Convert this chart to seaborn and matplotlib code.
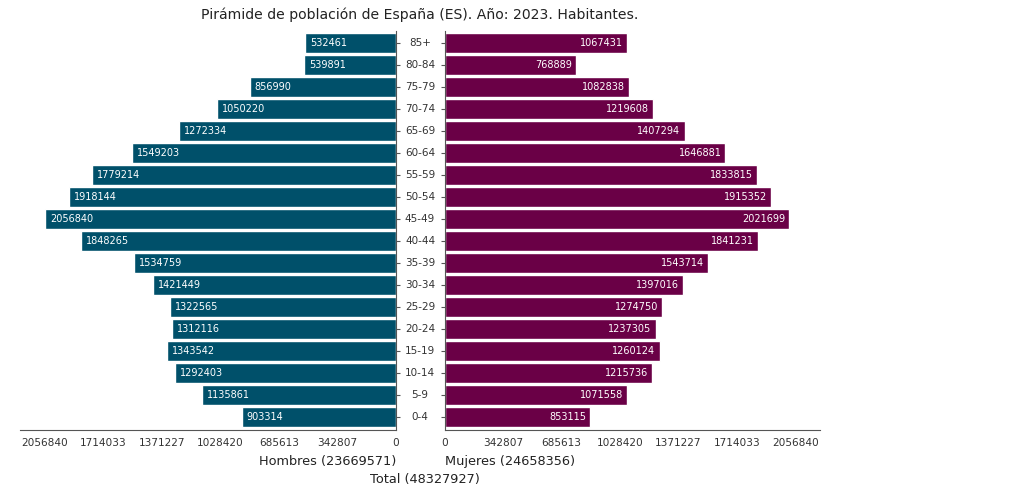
import matplotlib
matplotlib.use("Agg")
import matplotlib.pyplot as plt
import matplotlib.transforms as mtransforms
import seaborn as sns
import pandas as pd

ages = ["85+", "80-84", "75-79", "70-74", "65-69", "60-64", "55-59", "50-54", "45-49",
        "40-44", "35-39", "30-34", "25-29", "20-24", "15-19", "10-14", "5-9", "0-4"]
hombres = [532461, 539891, 856990, 1050220, 1272334, 1549203, 1779214, 1918144, 2056840,
           1848265, 1534759, 1421449, 1322565, 1312116, 1343542, 1292403, 1135861, 903314]
mujeres = [1067431, 768889, 1082838, 1219608, 1407294, 1646881, 1833815, 1915352, 2021699,
           1841231, 1543714, 1397016, 1274750, 1237305, 1260124, 1215736, 1071558, 853115]

title = "Pirámide de población de España (ES). Año: 2023. Habitantes."
c_h = "#00506a"
c_m = "#6a0046"
txt = "#222222"

sns.set_style("white")
plt.rcParams["font.family"] = ["DejaVu Sans"]

W, H = 1028, 500
fig = plt.figure(figsize=(W / 100, H / 100), dpi=100)
top = 1 - 31 / H
bot = 1 - 430 / H
axL = fig.add_axes([20 / W, bot, (396 - 20) / W, top - bot])
axR = fig.add_axes([445 / W, bot, (820 - 445) / W, top - bot])

df = pd.DataFrame({"age": ages, "h": hombres, "m": mujeres})
sns.barplot(data=df, x="h", y="age", order=ages, orient="h", color=c_h,
            saturation=1, width=0.9, ax=axL)
sns.barplot(data=df, x="m", y="age", order=ages, orient="h", color=c_m,
            saturation=1, width=0.9, ax=axR)

vmax = max(max(hombres), max(mujeres))
ticks = [vmax * i / 6 for i in range(7)]
labels = [f"{round(t)}" for t in ticks]
lim = vmax * 1.071

axL.set_xlim(lim, 0)
axR.set_xlim(0, lim)
for ax in (axL, axR):
    ax.set_ylim(len(ages) - 0.4, -0.55)
    ax.set_xticks(ticks)
    ax.set_xticklabels(labels, fontsize=7.6, color="#333333")
    ax.set_xlabel("")
    ax.set_ylabel("")
    ax.set_yticklabels([])
    ax.tick_params(axis="x", direction="out", length=4, width=0.8, color="#555555", pad=2)
    ax.tick_params(axis="y", direction="out", length=3, width=0.8, color="#555555")
    for s in ax.spines.values():
        s.set_color("#555555")
        s.set_linewidth(0.8)
    ax.spines["top"].set_visible(False)

axL.spines["left"].set_visible(False)
axL.yaxis.tick_right()
axR.spines["right"].set_visible(False)
axR.yaxis.tick_left()

# bar labels
offL = mtransforms.offset_copy(axL.transData, fig=fig, x=5 * 0.72, y=0, units="points")
offR = mtransforms.offset_copy(axR.transData, fig=fig, x=-4 * 0.72, y=0, units="points")
for i, v in enumerate(hombres):
    axL.text(v, i, f"{v}", transform=offL, ha="left", va="center",
             fontsize=7, color="white")
for i, v in enumerate(mujeres):
    axR.text(v, i, f"{v}", transform=offR, ha="right", va="center",
             fontsize=7, color="white")

# age labels in the gap
tr = mtransforms.blended_transform_factory(fig.transFigure, axL.transData)
for i, a in enumerate(ages):
    axL.text(420 / W, i, a, transform=tr, ha="center", va="center",
             fontsize=7.5, color="#333333", clip_on=False)

fig.text(420 / W, 1 - 15 / H, title, ha="center", va="center", fontsize=10.1, color=txt)
fig.text(396 / W, 1 - 461 / H, f"Hombres ({sum(hombres)})", ha="right", va="center",
         fontsize=9.3, color=txt)
fig.text(445 / W, 1 - 461 / H, f"Mujeres ({sum(mujeres)})", ha="left", va="center",
         fontsize=9.3, color=txt)
fig.text(425 / W, 1 - 480 / H, f"Total ({sum(hombres) + sum(mujeres)})", ha="center",
         va="center", fontsize=9.3, color=txt)

fig.savefig("out.png", dpi=100)
